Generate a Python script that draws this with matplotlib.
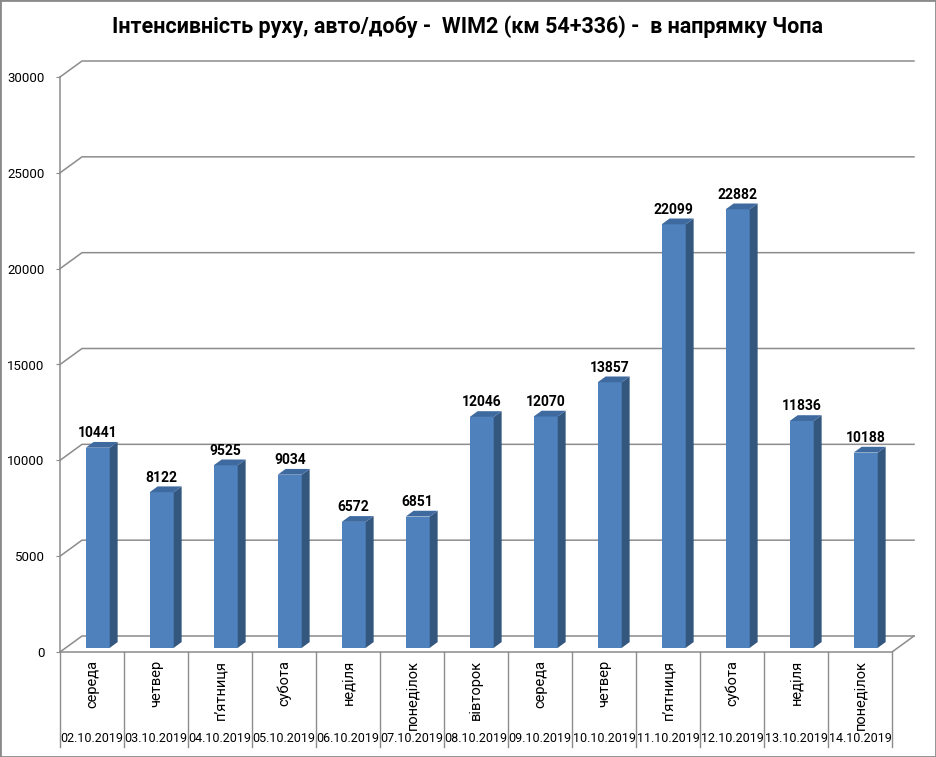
import matplotlib
matplotlib.use('Agg')
import matplotlib.pyplot as plt
from matplotlib.patches import Polygon, Rectangle

# ---------------- data ----------------
values = [10441, 8122, 9525, 9034, 6572, 6851, 12046, 12070, 13857, 22099, 22882, 11836, 10188]
days = ['середа', 'четвер', 'п\u2019ятниця', 'субота', 'неділя', 'понеділок', 'вівторок',
        'середа', 'четвер', 'п\u2019ятниця', 'субота', 'неділя', 'понеділок']
dates = ['02.10.2019', '03.10.2019', '04.10.2019', '05.10.2019', '06.10.2019', '07.10.2019',
         '08.10.2019', '09.10.2019', '10.10.2019', '11.10.2019', '12.10.2019', '13.10.2019',
         '14.10.2019']
yticks = [0, 5000, 10000, 15000, 20000, 25000, 30000]
title = 'Інтенсивність руху, авто/добу -  WIM2 (км 54+336) -  в напрямку Чопа'

# ---------------- style ----------------
plt.rcParams['font.family'] = ['Roboto', 'DejaVu Sans']
FRONT = '#4F81BD'
SIDE = '#34577F'
TOP = '#3E6AA0'
GRID = '#8C8C8C'

W, H = 936, 757
fig = plt.figure(figsize=(W / 100, H / 100), dpi=100)
L, R, B, T = 60, 892, 652, 77
ax = fig.add_axes([L / W, 1 - B / H, (R - L) / W, (B - T) / H])
n = len(values)
ax.set_xlim(-0.5, n - 0.5)
ax.set_ylim(0, 30000)

ux = n / (R - L)          # data units per pixel (x)
uy = 30000 / (B - T)      # data units per pixel (y)
DX, DY = 22 * ux, 16 * uy  # full depth of the 3D box
f0, bd = 0.26, 0.36        # bar front depth fraction, bar depth fraction
bw = 24 * ux

# walls / gridlines
for v in yticks:
    ax.plot([-0.5, -0.5 + DX, n - 0.5 + DX], [v, v + DY, v + DY],
            color=GRID, lw=1.1, clip_on=False, zorder=1)
ax.plot([-0.5, n - 0.5, n - 0.5 + DX], [0, 0, DY], color=GRID, lw=1.1,
        clip_on=False, zorder=1)

# bars
xs = [i + f0 * DX for i in range(n)]
y0 = f0 * DY
ax.bar(xs, values, width=bw, bottom=y0, color=FRONT, zorder=3, linewidth=0)
for x, v in zip(xs, values):
    x0, x1 = x - bw / 2, x + bw / 2
    side = Polygon([(x1, y0), (x1, y0 + v), (x1 + bd * DX, y0 + v + bd * DY),
                    (x1 + bd * DX, y0 + bd * DY)], closed=True, fc=SIDE, ec='none',
                   zorder=3, clip_on=False)
    top = Polygon([(x0, y0 + v), (x1, y0 + v), (x1 + bd * DX, y0 + v + bd * DY),
                   (x0 + bd * DX, y0 + v + bd * DY)], closed=True, fc=TOP, ec='none',
                  zorder=3, clip_on=False)
    ax.add_patch(side)
    ax.add_patch(top)
    ax.annotate(str(v), (x, y0 + v), xytext=(0, 10.5), textcoords='offset pixels',
                ha='center', va='baseline', fontweight='bold', fontsize=10,
                annotation_clip=False, zorder=4)

# axes styling
for s in ['top', 'right', 'bottom']:
    ax.spines[s].set_visible(False)
ax.spines['left'].set_color(GRID)
ax.spines['left'].set_linewidth(1.1)
ax.set_xticks([])
ax.set_yticks(yticks)
ax.set_yticklabels([str(t) for t in yticks])
ax.tick_params(axis='y', length=3, color=GRID, pad=8, labelsize=9.5)

# category table
xt = ax.get_xaxis_transform()
tb = -(747 - B) / (B - T)
for k in range(n + 1):
    ax.plot([k - 0.5, k - 0.5], [0, tb], transform=xt, color=GRID, lw=1.0, clip_on=False)
for i in range(n):
    ax.text(i, -(660 - B) / (B - T), days[i], transform=xt, rotation=90,
            ha='center', va='top', fontsize=10.5)
    ax.text(i, -(739 - B) / (B - T), dates[i], transform=xt,
            ha='center', va='center', fontsize=9)

fig.text(0.5, 1 - 27 / H, title, ha='center', va='center', fontweight='bold', fontsize=15.5)
fig.add_artist(Rectangle((0, 0), 1, 1, transform=fig.transFigure, fill=False,
                         ec='#8A8A8A', lw=2.0))

fig.savefig('out.png', dpi=100)
